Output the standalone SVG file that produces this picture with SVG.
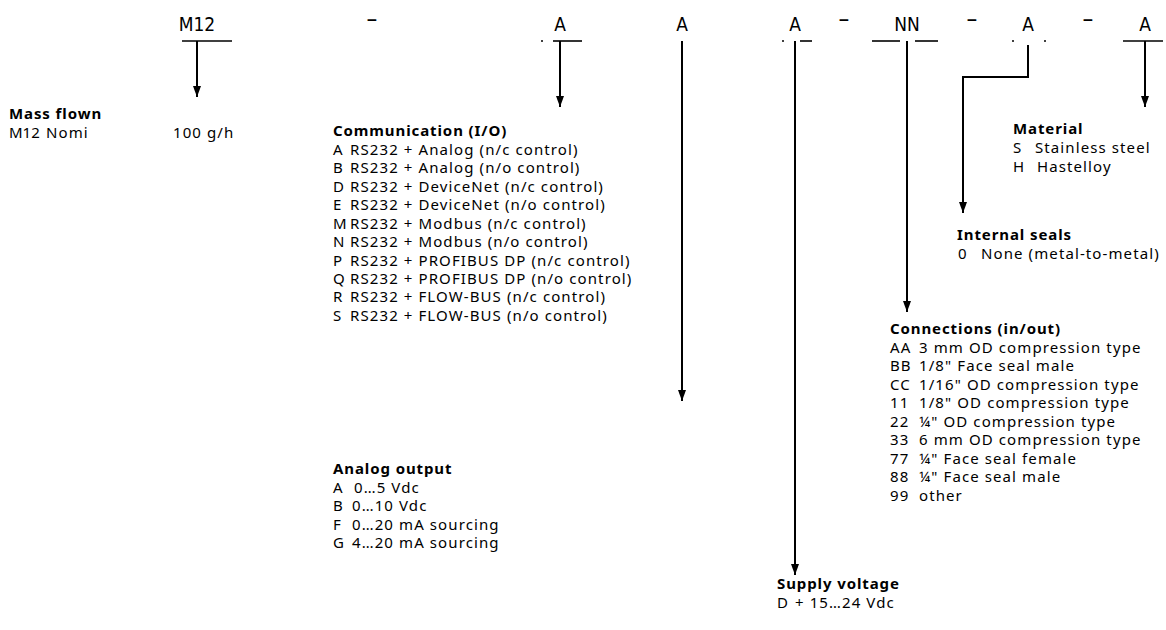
<svg xmlns="http://www.w3.org/2000/svg" width="1166" height="630" viewBox="0 0 1166 630">
<defs>
<marker id="ah" markerWidth="11" markerHeight="8" refX="11" refY="4" orient="auto" markerUnits="userSpaceOnUse" viewBox="0 0 11 8">
<path d="M0,0 L11,4 L0,8 Z" fill="#000"/>
</marker>
<style>
text{font-family:"Noto Sans","Open Sans","Liberation Sans",sans-serif;font-size:15px;letter-spacing:1.1px;fill:#000}
.h{font-weight:bold;letter-spacing:0.9px}
.tight{letter-spacing:0}
.code{font-family:"DejaVu Sans Condensed","Liberation Sans Narrow","Roboto",sans-serif;font-size:19px;letter-spacing:0;text-anchor:middle}
.dash{font-family:"DejaVu Sans Condensed","Liberation Sans",sans-serif;font-size:24px;letter-spacing:0;text-anchor:middle}
.conn line,.conn polyline{stroke:#000;stroke-width:2;fill:none}
.ul{stroke:#000;stroke-width:1.6}
.arr{marker-end:url(#ah)}
</style>
</defs>
<rect width="1166" height="630" fill="#fff"/>
<g id="code-row">
<text class="code" x="197" y="31">M12</text>
<text class="dash" x="372" y="27">–</text>
<text class="code" x="560" y="31">A</text>
<text class="code" x="682" y="31">A</text>
<text class="code" x="795" y="31">A</text>
<text class="dash" x="844" y="27">–</text>
<text class="code" x="907" y="31">NN</text>
<text class="dash" x="972" y="27">–</text>
<text class="code" x="1028" y="31">A</text>
<text class="dash" x="1088" y="27">–</text>
<text class="code" x="1145" y="31">A</text>
<line class="ul" x1="182" y1="41" x2="232" y2="41"/>
<line class="ul" x1="541" y1="41" x2="543" y2="41"/>
<line class="ul" x1="553" y1="41" x2="582" y2="41"/>
<line class="ul" x1="782" y1="41" x2="784" y2="41"/>
<line class="ul" x1="800" y1="41" x2="812" y2="41"/>
<line class="ul" x1="872" y1="41" x2="900" y2="41"/>
<line class="ul" x1="915" y1="41" x2="938" y2="41"/>
<line class="ul" x1="1012" y1="41" x2="1014" y2="41"/>
<line class="ul" x1="1044" y1="41" x2="1046" y2="41"/>
<line class="ul" x1="1123" y1="41" x2="1163" y2="41"/>
</g>
<g id="connectors" class="conn">
<line class="arr" x1="197" y1="41" x2="197" y2="97"/>
<line class="arr" x1="560" y1="41" x2="560" y2="107"/>
<line class="arr" x1="682" y1="41" x2="682" y2="401"/>
<line class="arr" x1="795" y1="41" x2="795" y2="575"/>
<line class="arr" x1="907" y1="41" x2="907" y2="312"/>
<polyline class="arr" points="1028,45 1028,77 963,77 963,213"/>
<line class="arr" x1="1145" y1="41" x2="1145" y2="107"/>
</g>
<g id="mass-flow">
<text class="h" x="9" y="119">Mass flown</text>
<text class="tight" x="9" y="138">M12</text>
<text x="46" y="138">Nomi</text>
<text x="173" y="138">100 g/h</text>
</g>
<g id="communication">
<text class="h" x="333" y="136">Communication (I/O)</text>
<text x="333" y="155">A</text><text x="350" y="155">RS232 + Analog (n/c control)</text>
<text x="333" y="173">B</text><text x="350" y="173">RS232 + Analog (n/o control)</text>
<text x="333" y="192">D</text><text x="350" y="192">RS232 + DeviceNet (n/c control)</text>
<text x="333" y="210">E</text><text x="350" y="210">RS232 + DeviceNet (n/o control)</text>
<text x="333" y="229">M</text><text x="350" y="229">RS232 + Modbus (n/c control)</text>
<text x="333" y="247">N</text><text x="350" y="247">RS232 + Modbus (n/o control)</text>
<text x="333" y="266">P</text><text x="350" y="266">RS232 + PROFIBUS DP (n/c control)</text>
<text x="333" y="284">Q</text><text x="350" y="284">RS232 + PROFIBUS DP (n/o control)</text>
<text x="333" y="302">R</text><text x="350" y="302">RS232 + FLOW-BUS (n/c control)</text>
<text x="333" y="321">S</text><text x="350" y="321">RS232 + FLOW-BUS (n/o control)</text>
</g>
<g id="analog-output">
<text class="h" x="333" y="474">Analog output</text>
<text x="333" y="493">A</text><text x="354" y="493">0…5 Vdc</text>
<text x="333" y="511">B</text><text x="352" y="511">0…10 Vdc</text>
<text x="333" y="530">F</text><text x="352" y="530">0…20 mA sourcing</text>
<text x="333" y="548">G</text><text x="352" y="548">4…20 mA sourcing</text>
</g>
<g id="supply-voltage">
<text class="h" x="777" y="589">Supply voltage</text>
<text x="777" y="608">D</text><text x="795" y="608">+ 15…24 Vdc</text>
</g>
<g id="connections">
<text class="h" x="890" y="334">Connections (in/out)</text>
<text x="890" y="353">AA</text><text x="919" y="353">3 mm OD compression type</text>
<text x="890" y="371">BB</text><text x="919" y="371">1/8" Face seal male</text>
<text x="890" y="390">CC</text><text x="919" y="390">1/16" OD compression type</text>
<text x="890" y="408">11</text><text x="919" y="408">1/8" OD compression type</text>
<text x="890" y="427">22</text><text x="919" y="427">¼" OD compression type</text>
<text x="890" y="445">33</text><text x="919" y="445">6 mm OD compression type</text>
<text x="890" y="464">77</text><text x="919" y="464">¼" Face seal female</text>
<text x="890" y="482">88</text><text x="919" y="482">¼" Face seal male</text>
<text x="890" y="501">99</text><text x="919" y="501">other</text>
</g>
<g id="material">
<text class="h" x="1013" y="134">Material</text>
<text x="1013" y="153">S</text><text x="1035" y="153">Stainless steel</text>
<text x="1013" y="172">H</text><text x="1037" y="172">Hastelloy</text>
</g>
<g id="internal-seals">
<text class="h" x="957" y="240">Internal seals</text>
<text x="958" y="259">0</text><text x="981" y="259">None (metal-to-metal)</text>
</g>
</svg>
